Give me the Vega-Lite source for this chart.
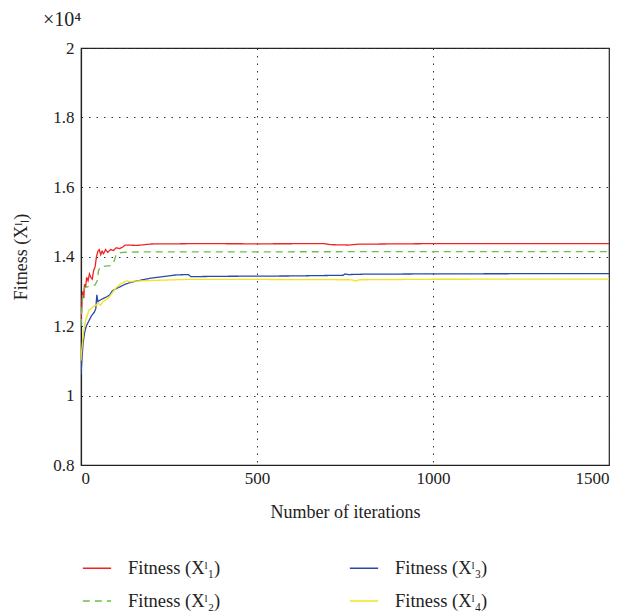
{
  "$schema": "https://vega.github.io/schema/vega-lite/v6.json",
  "width": 528,
  "height": 417,
  "autosize": {"type": "none"},
  "padding": {"left": 81, "top": 48, "right": 20, "bottom": 148},
  "background": "white",
  "title": {"text": "×10⁴", "anchor": "start", "frame": "group", "dx": -38, "offset": 9, "font": "Liberation Serif", "fontSize": 20, "fontWeight": "normal", "color": "#222"},
  "config": {
    "view": {"stroke": "#222", "strokeWidth": 1.2},
    "axis": {"labelFont": "Liberation Serif", "titleFont": "Liberation Serif", "labelFontSize": 17, "titleFontSize": 18, "titleFontWeight": "normal", "labelColor": "#222", "titleColor": "#222", "domainColor": "#222", "domainWidth": 1.2, "ticks": false, "grid": true, "gridColor": "#333", "gridDash": [1.5, 6], "gridWidth": 1, "labelPadding": 7},
    "legend": {"labelFont": "Liberation Serif", "labelFontSize": 18.5, "labelColor": "#222"}
  },
  "data": {"values": [
    {"series": "Fitness (Xˡ₁)", "iter": 0, "fitness": 12200},
    {"series": "Fitness (Xˡ₁)", "iter": 2, "fitness": 12500},
    {"series": "Fitness (Xˡ₁)", "iter": 4, "fitness": 12900},
    {"series": "Fitness (Xˡ₁)", "iter": 6, "fitness": 13000},
    {"series": "Fitness (Xˡ₁)", "iter": 8, "fitness": 12800},
    {"series": "Fitness (Xˡ₁)", "iter": 10, "fitness": 13200},
    {"series": "Fitness (Xˡ₁)", "iter": 13, "fitness": 13100},
    {"series": "Fitness (Xˡ₁)", "iter": 16, "fitness": 13400},
    {"series": "Fitness (Xˡ₁)", "iter": 20, "fitness": 13300},
    {"series": "Fitness (Xˡ₁)", "iter": 24, "fitness": 13500},
    {"series": "Fitness (Xˡ₁)", "iter": 28, "fitness": 13400},
    {"series": "Fitness (Xˡ₁)", "iter": 32, "fitness": 13350},
    {"series": "Fitness (Xˡ₁)", "iter": 36, "fitness": 13600},
    {"series": "Fitness (Xˡ₁)", "iter": 40, "fitness": 13700},
    {"series": "Fitness (Xˡ₁)", "iter": 44, "fitness": 14000},
    {"series": "Fitness (Xˡ₁)", "iter": 48, "fitness": 14150},
    {"series": "Fitness (Xˡ₁)", "iter": 52, "fitness": 14200},
    {"series": "Fitness (Xˡ₁)", "iter": 56, "fitness": 14050},
    {"series": "Fitness (Xˡ₁)", "iter": 60, "fitness": 14150},
    {"series": "Fitness (Xˡ₁)", "iter": 64, "fitness": 14080},
    {"series": "Fitness (Xˡ₁)", "iter": 70, "fitness": 14200},
    {"series": "Fitness (Xˡ₁)", "iter": 76, "fitness": 14120},
    {"series": "Fitness (Xˡ₁)", "iter": 84, "fitness": 14200},
    {"series": "Fitness (Xˡ₁)", "iter": 92, "fitness": 14170},
    {"series": "Fitness (Xˡ₁)", "iter": 100, "fitness": 14250},
    {"series": "Fitness (Xˡ₁)", "iter": 110, "fitness": 14230},
    {"series": "Fitness (Xˡ₁)", "iter": 120, "fitness": 14280},
    {"series": "Fitness (Xˡ₁)", "iter": 125, "fitness": 14330},
    {"series": "Fitness (Xˡ₁)", "iter": 160, "fitness": 14320},
    {"series": "Fitness (Xˡ₁)", "iter": 200, "fitness": 14360},
    {"series": "Fitness (Xˡ₁)", "iter": 330, "fitness": 14370},
    {"series": "Fitness (Xˡ₁)", "iter": 500, "fitness": 14365},
    {"series": "Fitness (Xˡ₁)", "iter": 690, "fitness": 14370},
    {"series": "Fitness (Xˡ₁)", "iter": 710, "fitness": 14340},
    {"series": "Fitness (Xˡ₁)", "iter": 760, "fitness": 14330},
    {"series": "Fitness (Xˡ₁)", "iter": 790, "fitness": 14355},
    {"series": "Fitness (Xˡ₁)", "iter": 1000, "fitness": 14370},
    {"series": "Fitness (Xˡ₁)", "iter": 1500, "fitness": 14370},

    {"series": "Fitness (Xˡ₂)", "iter": 0, "fitness": 12000},
    {"series": "Fitness (Xˡ₂)", "iter": 3, "fitness": 12600},
    {"series": "Fitness (Xˡ₂)", "iter": 6, "fitness": 13000},
    {"series": "Fitness (Xˡ₂)", "iter": 10, "fitness": 13100},
    {"series": "Fitness (Xˡ₂)", "iter": 20, "fitness": 13130},
    {"series": "Fitness (Xˡ₂)", "iter": 30, "fitness": 13150},
    {"series": "Fitness (Xˡ₂)", "iter": 40, "fitness": 13180},
    {"series": "Fitness (Xˡ₂)", "iter": 46, "fitness": 13300},
    {"series": "Fitness (Xˡ₂)", "iter": 50, "fitness": 13600},
    {"series": "Fitness (Xˡ₂)", "iter": 55, "fitness": 13700},
    {"series": "Fitness (Xˡ₂)", "iter": 70, "fitness": 13720},
    {"series": "Fitness (Xˡ₂)", "iter": 85, "fitness": 13740},
    {"series": "Fitness (Xˡ₂)", "iter": 92, "fitness": 13800},
    {"series": "Fitness (Xˡ₂)", "iter": 98, "fitness": 14000},
    {"series": "Fitness (Xˡ₂)", "iter": 104, "fitness": 14100},
    {"series": "Fitness (Xˡ₂)", "iter": 120, "fitness": 14120},
    {"series": "Fitness (Xˡ₂)", "iter": 160, "fitness": 14130},
    {"series": "Fitness (Xˡ₂)", "iter": 500, "fitness": 14135},
    {"series": "Fitness (Xˡ₂)", "iter": 1000, "fitness": 14140},
    {"series": "Fitness (Xˡ₂)", "iter": 1500, "fitness": 14140},

    {"series": "Fitness (Xˡ₃)", "iter": 0, "fitness": 10600},
    {"series": "Fitness (Xˡ₃)", "iter": 3, "fitness": 11100},
    {"series": "Fitness (Xˡ₃)", "iter": 6, "fitness": 11500},
    {"series": "Fitness (Xˡ₃)", "iter": 10, "fitness": 11800},
    {"series": "Fitness (Xˡ₃)", "iter": 15, "fitness": 12000},
    {"series": "Fitness (Xˡ₃)", "iter": 20, "fitness": 12100},
    {"series": "Fitness (Xˡ₃)", "iter": 25, "fitness": 12200},
    {"series": "Fitness (Xˡ₃)", "iter": 30, "fitness": 12300},
    {"series": "Fitness (Xˡ₃)", "iter": 38, "fitness": 12400},
    {"series": "Fitness (Xˡ₃)", "iter": 42, "fitness": 12500},
    {"series": "Fitness (Xˡ₃)", "iter": 45, "fitness": 12900},
    {"series": "Fitness (Xˡ₃)", "iter": 48, "fitness": 12700},
    {"series": "Fitness (Xˡ₃)", "iter": 55, "fitness": 12750},
    {"series": "Fitness (Xˡ₃)", "iter": 65, "fitness": 12800},
    {"series": "Fitness (Xˡ₃)", "iter": 75, "fitness": 12850},
    {"series": "Fitness (Xˡ₃)", "iter": 82, "fitness": 12900},
    {"series": "Fitness (Xˡ₃)", "iter": 88, "fitness": 13000},
    {"series": "Fitness (Xˡ₃)", "iter": 95, "fitness": 13050},
    {"series": "Fitness (Xˡ₃)", "iter": 105, "fitness": 13100},
    {"series": "Fitness (Xˡ₃)", "iter": 115, "fitness": 13150},
    {"series": "Fitness (Xˡ₃)", "iter": 125, "fitness": 13200},
    {"series": "Fitness (Xˡ₃)", "iter": 140, "fitness": 13250},
    {"series": "Fitness (Xˡ₃)", "iter": 160, "fitness": 13300},
    {"series": "Fitness (Xˡ₃)", "iter": 200, "fitness": 13380},
    {"series": "Fitness (Xˡ₃)", "iter": 240, "fitness": 13430},
    {"series": "Fitness (Xˡ₃)", "iter": 270, "fitness": 13470},
    {"series": "Fitness (Xˡ₃)", "iter": 305, "fitness": 13480},
    {"series": "Fitness (Xˡ₃)", "iter": 312, "fitness": 13420},
    {"series": "Fitness (Xˡ₃)", "iter": 400, "fitness": 13430},
    {"series": "Fitness (Xˡ₃)", "iter": 600, "fitness": 13440},
    {"series": "Fitness (Xˡ₃)", "iter": 745, "fitness": 13460},
    {"series": "Fitness (Xˡ₃)", "iter": 750, "fitness": 13500},
    {"series": "Fitness (Xˡ₃)", "iter": 760, "fitness": 13480},
    {"series": "Fitness (Xˡ₃)", "iter": 800, "fitness": 13490},
    {"series": "Fitness (Xˡ₃)", "iter": 1000, "fitness": 13500},
    {"series": "Fitness (Xˡ₃)", "iter": 1500, "fitness": 13510},

    {"series": "Fitness (Xˡ₄)", "iter": 0, "fitness": 11000},
    {"series": "Fitness (Xˡ₄)", "iter": 2, "fitness": 11300},
    {"series": "Fitness (Xˡ₄)", "iter": 4, "fitness": 11500},
    {"series": "Fitness (Xˡ₄)", "iter": 7, "fitness": 11800},
    {"series": "Fitness (Xˡ₄)", "iter": 10, "fitness": 12000},
    {"series": "Fitness (Xˡ₄)", "iter": 14, "fitness": 12200},
    {"series": "Fitness (Xˡ₄)", "iter": 18, "fitness": 12300},
    {"series": "Fitness (Xˡ₄)", "iter": 22, "fitness": 12450},
    {"series": "Fitness (Xˡ₄)", "iter": 28, "fitness": 12500},
    {"series": "Fitness (Xˡ₄)", "iter": 35, "fitness": 12550},
    {"series": "Fitness (Xˡ₄)", "iter": 42, "fitness": 12600},
    {"series": "Fitness (Xˡ₄)", "iter": 50, "fitness": 12650},
    {"series": "Fitness (Xˡ₄)", "iter": 56, "fitness": 12600},
    {"series": "Fitness (Xˡ₄)", "iter": 62, "fitness": 12700},
    {"series": "Fitness (Xˡ₄)", "iter": 70, "fitness": 12750},
    {"series": "Fitness (Xˡ₄)", "iter": 78, "fitness": 12800},
    {"series": "Fitness (Xˡ₄)", "iter": 85, "fitness": 12900},
    {"series": "Fitness (Xˡ₄)", "iter": 92, "fitness": 13000},
    {"series": "Fitness (Xˡ₄)", "iter": 100, "fitness": 13100},
    {"series": "Fitness (Xˡ₄)", "iter": 110, "fitness": 13200},
    {"series": "Fitness (Xˡ₄)", "iter": 120, "fitness": 13250},
    {"series": "Fitness (Xˡ₄)", "iter": 130, "fitness": 13300},
    {"series": "Fitness (Xˡ₄)", "iter": 140, "fitness": 13270},
    {"series": "Fitness (Xˡ₄)", "iter": 150, "fitness": 13290},
    {"series": "Fitness (Xˡ₄)", "iter": 200, "fitness": 13310},
    {"series": "Fitness (Xˡ₄)", "iter": 300, "fitness": 13340},
    {"series": "Fitness (Xˡ₄)", "iter": 500, "fitness": 13340},
    {"series": "Fitness (Xˡ₄)", "iter": 770, "fitness": 13330},
    {"series": "Fitness (Xˡ₄)", "iter": 780, "fitness": 13290},
    {"series": "Fitness (Xˡ₄)", "iter": 790, "fitness": 13330},
    {"series": "Fitness (Xˡ₄)", "iter": 1000, "fitness": 13345},
    {"series": "Fitness (Xˡ₄)", "iter": 1500, "fitness": 13350}
  ]},
  "mark": {"type": "line", "strokeWidth": 1.3, "clip": true},
  "encoding": {
    "x": {"field": "iter", "type": "quantitative", "scale": {"domain": [0, 1500], "nice": false}, "axis": {"values": [0, 500, 1000, 1500], "format": "d", "title": "Number of iterations", "titlePadding": 17, "labelPadding": 5}},
    "y": {"field": "fitness", "type": "quantitative", "scale": {"domain": [8000, 20000], "nice": false, "zero": false}, "axis": {"values": [8000, 10000, 12000, 14000, 16000, 18000, 20000], "labelExpr": "format(datum.value / 10000, '~g')", "title": "Fitness (Xˡₗ)", "titlePadding": 22}},
    "color": {"field": "series", "type": "nominal", "scale": {"domain": ["Fitness (Xˡ₁)", "Fitness (Xˡ₃)", "Fitness (Xˡ₂)", "Fitness (Xˡ₄)"], "range": ["#ee2424", "#2a48a8", "#6cbf4a", "#f2e41e"]},
      "legend": {"title": null, "orient": "none", "legendX": 1, "legendY": 505, "columns": 2, "direction": "horizontal", "symbolType": "stroke", "symbolSize": 800, "symbolStrokeWidth": 1.3, "labelOffset": 16, "columnPadding": 126, "rowPadding": 8, "padding": 0}},
    "strokeDash": {"field": "series", "type": "nominal", "scale": {"domain": ["Fitness (Xˡ₁)", "Fitness (Xˡ₃)", "Fitness (Xˡ₂)", "Fitness (Xˡ₄)"], "range": [[1, 0], [1, 0], [7, 5], [1, 0]]},
      "legend": {"title": null, "orient": "none", "legendX": 1, "legendY": 505, "columns": 2, "direction": "horizontal", "symbolType": "stroke", "symbolSize": 800, "symbolStrokeWidth": 1.3, "labelOffset": 16, "columnPadding": 126, "rowPadding": 8, "padding": 0}}
  }
}
